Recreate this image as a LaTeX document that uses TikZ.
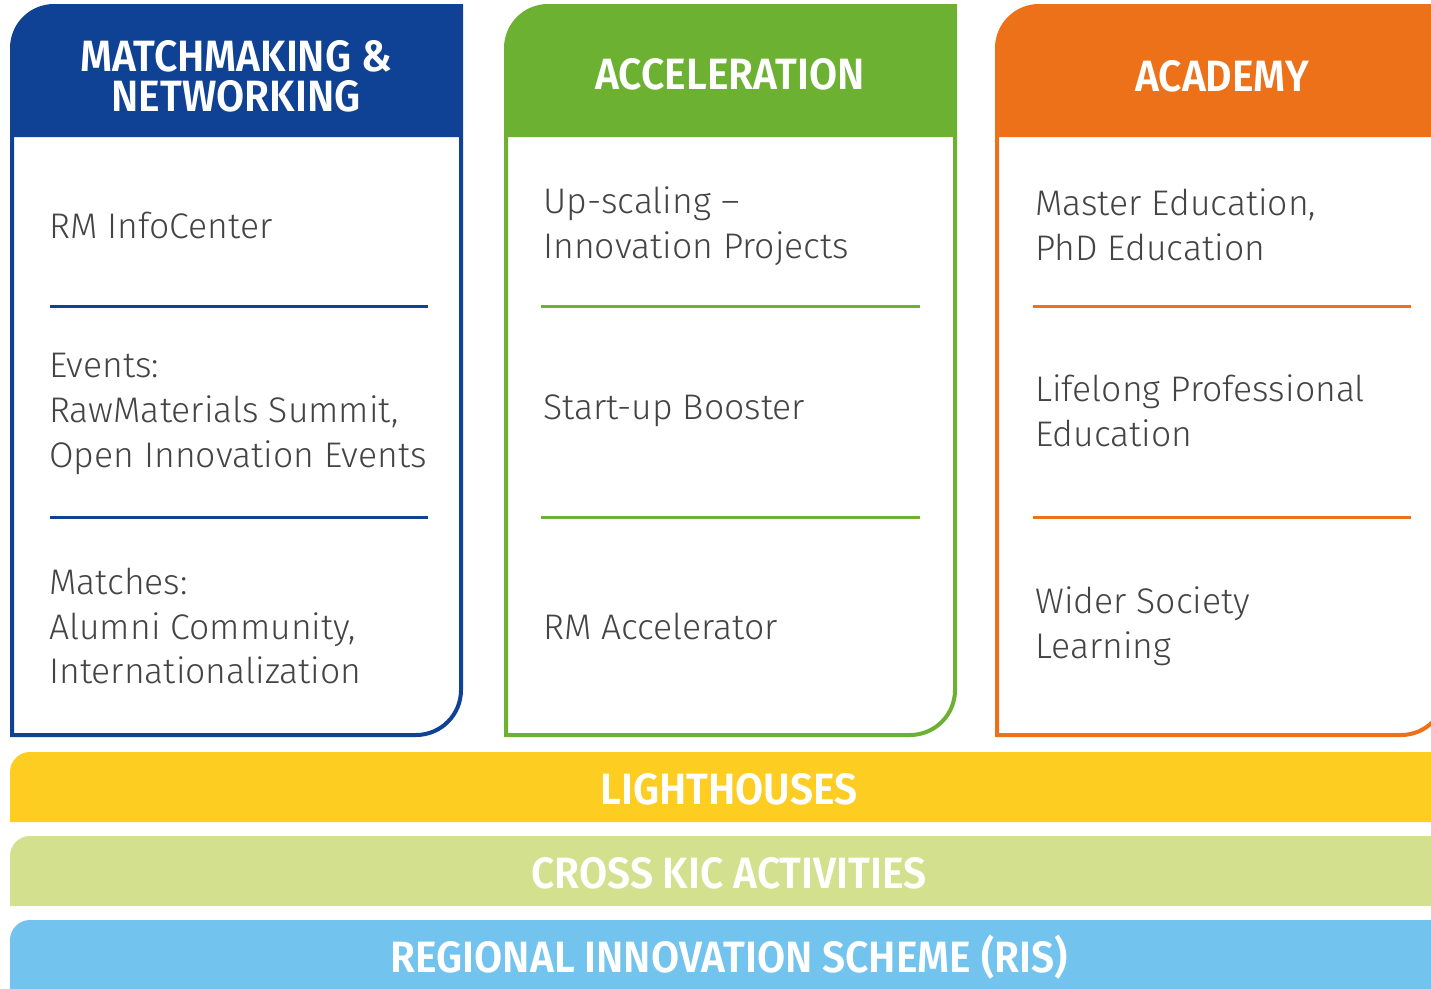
\documentclass[tikz,border=0pt]{standalone}
\usepackage{fontspec}
\setmainfont{Fira Sans Light}
\newfontfamily\headfont[FakeStretch=0.93]{Fira Sans SemiBold}
\definecolor{cblue}{HTML}{0F4194}
\definecolor{cgreen}{HTML}{6DB132}
\definecolor{corange}{HTML}{EC7118}
\definecolor{cyellow}{HTML}{FDCD22}
\definecolor{clgreen}{HTML}{D3E08E}
\definecolor{clblue}{HTML}{72C4EE}
\definecolor{ctext}{HTML}{444444}
\tikzset{
  bodytext/.style={anchor=west,align=left,inner sep=0pt,text=ctext,font=\fontsize{35.7}{45}\selectfont},
  headtext/.style={align=center,inner sep=0pt,text=white,font=\headfont\fontsize{44}{40}\selectfont},
  bartext/.style={inner sep=0pt,text=white,font=\headfont\fontsize{44}{40}\selectfont},
  sepline/.style={line width=3bp},
  outline/.style={line width=4bp}
}
\begin{document}
\begin{tikzpicture}[x=1bp,y=-1bp]
\useasboundingbox (0,0) rectangle (1431,988);
\clip (0,0) rectangle (1431,988);
\fill[white] (0,0) rectangle (1431,988);
% columns
\foreach \xl/\col in {10/cblue,504/cgreen,995/corange}{
  \pgfmathsetmacro{\xr}{\xl+453}
  \fill[\col] (\xl,137) -- (\xl,48) arc[start angle=180,end angle=90,x radius=44,y radius=-44] -- (\xr,4) -- (\xr,137) -- cycle;
  \draw[\col,outline] (\xl+2,137) -- (\xl+2,735) -- (\xr-47,735) arc[start angle=270,end angle=360,x radius=45,y radius=-45] -- (\xr-2,137);
}
% header texts
\node[headtext] (h1) at (236,76) {MATCHMAKING \&\\NETWORKING};
\node[headtext] (h2) at (730,74) {ACCELERATION};
\node[headtext] (h3) at (1222,76) {ACADEMY};
% separators
\draw[cblue,sepline] (50,306) -- (428,306);
\draw[cblue,sepline] (50,517) -- (428,517);
\draw[cgreen,sepline] (541,306) -- (920,306);
\draw[cgreen,sepline] (541,517) -- (920,517);
\draw[corange,sepline] (1033,306) -- (1411,306);
\draw[corange,sepline] (1033,517) -- (1411,517);
% body texts
\node[bodytext] (a1) at (49,225) {RM InfoCenter};
\node[bodytext] (a2) at (49,414) {Events:\\RawMaterials Summit,\\Open Innovation Events};
\node[bodytext] (a3) at (49,626) {Matches:\\Alumni Community,\\Internationalization};
\node[bodytext] (b1) at (543,226) {Up-scaling –\\Innovation Projects};
\node[bodytext] (b2) at (543,411) {Start-up Booster};
\node[bodytext] (b3) at (543,626) {RM Accelerator};
\node[bodytext] (c1) at (1035,225) {Master Education,\\PhD Education};
\node[bodytext] (c2) at (1035,411) {Lifelong Professional\\Education};
\node[bodytext] (c3) at (1035,626) {Wider Society\\Learning};
% bars
\fill[cyellow] (10,822) -- (10,772) arc[start angle=180,end angle=90,x radius=20,y radius=-20] -- (1450,752) -- (1450,822) -- cycle;
\fill[clgreen] (10,906) -- (10,856) arc[start angle=180,end angle=90,x radius=20,y radius=-20] -- (1450,836) -- (1450,906) -- cycle;
\fill[clblue] (10,1000) -- (10,940) arc[start angle=180,end angle=90,x radius=20,y radius=-20] -- (1450,920) -- (1450,1000) -- cycle;
\node[bartext] (l1) at (729,789) {LIGHTHOUSES};
\node[bartext] (l2) at (729,873) {CROSS KIC ACTIVITIES};
\node[bartext] (l3) at (729,957) {REGIONAL INNOVATION SCHEME (RIS)};
\end{tikzpicture}
\end{document}
